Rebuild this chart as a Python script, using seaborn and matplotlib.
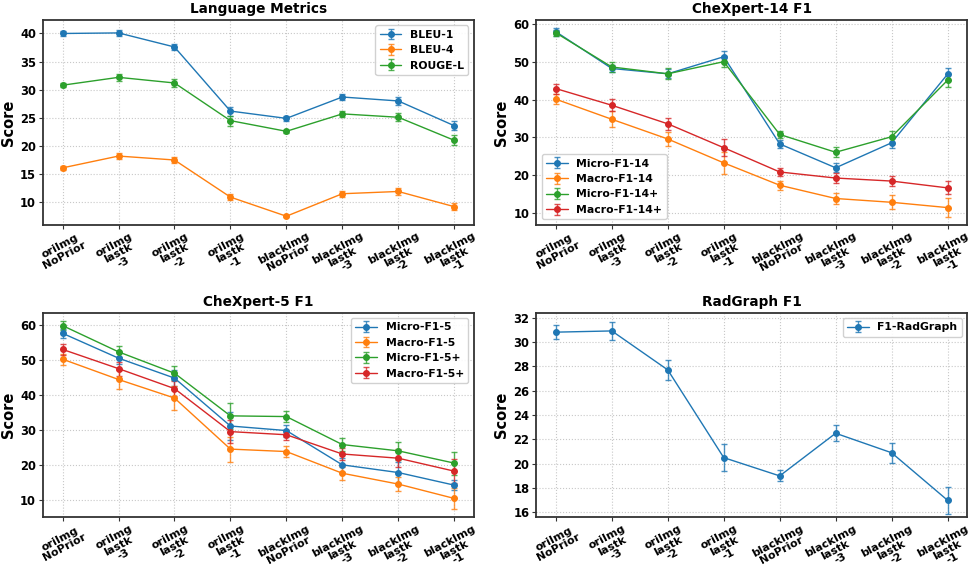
import numpy as np
import matplotlib
matplotlib.use("Agg")
import matplotlib.pyplot as plt
from matplotlib.ticker import MultipleLocator
import seaborn as sns

settings = ["oriImg\nNoPrior", "oriImg\nlastk\n-3", "oriImg\nlastk\n-2", "oriImg\nlastk\n-1",
            "blackImg\nNoPrior", "blackImg\nlastk\n-3", "blackImg\nlastk\n-2", "blackImg\nlastk\n-1"]

# language metrics (mean, error)
bleu1 = [40.0, 40.1, 37.6, 26.2, 24.9, 28.7, 28.0, 23.6]
bleu1_err = [0.5, 0.6, 0.6, 0.8, 0.5, 0.6, 0.7, 0.8]
bleu4 = [16.1, 18.2, 17.5, 10.9, 7.5, 11.5, 11.9, 9.2]
bleu4_err = [0.4, 0.5, 0.6, 0.6, 0.2, 0.5, 0.6, 0.6]
rougel = [30.8, 32.2, 31.2, 24.5, 22.6, 25.7, 25.1, 21.0]
rougel_err = [0.4, 0.6, 0.7, 0.9, 0.3, 0.5, 0.7, 0.9]

# CheXpert-14
micro14 = [57.9, 48.2, 46.8, 51.3, 28.3, 22.0, 28.6, 46.7]
micro14_err = [1.0, 1.0, 1.2, 1.5, 1.1, 1.2, 1.5, 1.5]
macro14 = [40.1, 34.8, 29.6, 23.3, 17.4, 13.9, 12.9, 11.5]
macro14_err = [1.3, 2.1, 1.8, 2.9, 1.2, 1.5, 1.8, 2.5]
micro14p = [57.6, 48.6, 46.8, 50.0, 30.8, 26.1, 30.2, 45.1]
micro14p_err = [0.8, 1.3, 1.4, 1.5, 1.0, 1.3, 1.6, 1.7]
macro14p = [42.9, 38.5, 33.6, 27.3, 20.9, 19.3, 18.5, 16.7]
macro14p_err = [1.3, 1.6, 1.5, 2.2, 1.1, 1.4, 1.4, 1.7]

# CheXpert-5
micro5 = [57.6, 50.5, 44.8, 31.1, 29.8, 20.0, 17.8, 14.2]
micro5_err = [1.3, 1.7, 2.2, 4.0, 1.7, 2.0, 2.9, 1.5]
macro5 = [50.2, 44.4, 39.1, 24.5, 23.8, 17.6, 14.5, 10.4]
macro5_err = [1.6, 2.7, 3.3, 3.6, 1.5, 1.9, 2.1, 2.9]
micro5p = [59.8, 52.3, 46.2, 34.0, 33.8, 25.8, 24.0, 20.5]
micro5p_err = [1.2, 1.6, 2.0, 3.8, 1.5, 1.9, 2.6, 3.3]
macro5p = [53.0, 47.5, 41.8, 29.5, 28.6, 23.1, 21.9, 18.2]
macro5p_err = [1.5, 2.0, 2.2, 3.2, 1.4, 1.8, 2.6, 3.5]

# RadGraph
radgraph = [30.8, 30.9, 27.7, 20.5, 19.0, 22.5, 20.9, 17.0]
radgraph_err = [0.55, 0.75, 0.8, 1.1, 0.45, 0.65, 0.8, 1.1]

sns.set_style("whitegrid", {"grid.linestyle": ":", "grid.color": "#c8c8c8",
                            "axes.edgecolor": "#333333", "xtick.bottom": True, "ytick.left": True,
                            "text.color": "black", "axes.labelcolor": "black",
                            "xtick.color": "black", "ytick.color": "black"})
plt.rcParams["font.family"] = ["DejaVu Sans"]
plt.rcParams["font.weight"] = "bold"
plt.rcParams["axes.labelweight"] = "bold"
plt.rcParams["axes.titleweight"] = "bold"
colors = sns.color_palette("tab10")

fig, axes = plt.subplots(2, 2, figsize=(9.72, 5.71), dpi=100)
fig.subplots_adjust(left=0.0442, right=0.995, top=0.965, bottom=0.094, wspace=0.145, hspace=0.43)

panels = [
    ("Language Metrics", [("BLEU-1", bleu1, bleu1_err), ("BLEU-4", bleu4, bleu4_err),
                          ("ROUGE-L", rougel, rougel_err)], "upper right", 5),
    ("CheXpert-14 F1", [("Micro-F1-14", micro14, micro14_err), ("Macro-F1-14", macro14, macro14_err),
                        ("Micro-F1-14+", micro14p, micro14p_err), ("Macro-F1-14+", macro14p, macro14p_err)],
     "lower left", 10),
    ("CheXpert-5 F1", [("Micro-F1-5", micro5, micro5_err), ("Macro-F1-5", macro5, macro5_err),
                       ("Micro-F1-5+", micro5p, micro5p_err), ("Macro-F1-5+", macro5p, macro5p_err)],
     "upper right", 10),
    ("RadGraph F1", [("F1-RadGraph", radgraph, radgraph_err)], "upper right", 2),
]

x = np.arange(len(settings))
for ax, (title, series, loc, step) in zip(axes.flat, panels):
    for i, (name, vals, errs) in enumerate(series):
        line, caps, bars = ax.errorbar(x, vals, yerr=errs, color=colors[i], marker="o", markersize=4,
                                       linewidth=1, capsize=2.5, elinewidth=1, label=name)
        for c in caps:
            c.set_alpha(0.8)
        for b in bars:
            b.set_alpha(0.8)
    ax.set_title(title, fontsize=9.8, fontweight="bold", pad=5, color="black")
    ax.set_ylabel("Score", fontsize=10.5, fontweight="bold", labelpad=3)
    ax.yaxis.set_major_locator(MultipleLocator(step))
    ax.set_xticks(x)
    ax.set_xticklabels(settings, rotation=28, ha="center", fontsize=8.0, fontweight="bold",
                       linespacing=0.97)
    ax.tick_params(axis="y", labelsize=8.3, length=3, color="#333333", pad=2)
    ax.tick_params(axis="x", length=3, color="#333333", pad=1.5)
    for lab in ax.get_yticklabels():
        lab.set_fontweight("bold")
    for s in ax.spines.values():
        s.set_linewidth(1.3)
    ax.set_xlim(-0.35, 7.35)
    ax.legend(loc=loc, prop={"weight": "bold", "size": 7.8}, framealpha=0.9)

axes[0, 0].set_ylim(6.0, 42.4)
axes[0, 1].set_ylim(7.0, 61.0)
axes[1, 0].set_ylim(5.0, 63.5)
axes[1, 1].set_ylim(15.6, 32.4)

fig.savefig("out.png", dpi=100)
